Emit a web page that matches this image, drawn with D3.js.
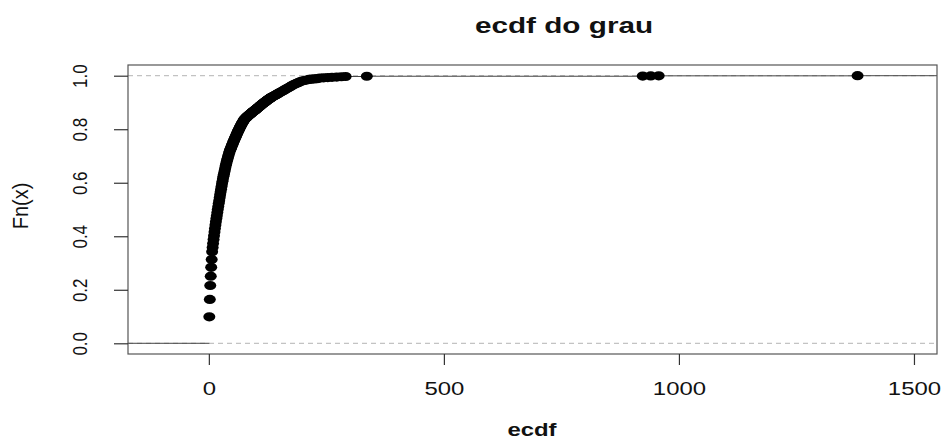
<!DOCTYPE html>
<html><head><meta charset="utf-8">
<script src="https://cdn.jsdelivr.net/npm/d3@7"></script>
<style>body{margin:0;background:#fff;} svg{display:block;font-family:"Liberation Sans",Arial,sans-serif;}</style>
</head><body><svg id="c" width="942" height="439"></svg>
<script>
const title = "ecdf do grau";
const xLabel = "ecdf";
const yLabel = "Fn(x)";
const xTicks = [0, 500, 1000, 1500];
const yTicks = [0, 0.2, 0.4, 0.6, 0.8, 1.0];
const xDomain = [-172, 1549];
const yDomain = [-0.04, 1.04];

// distinct degrees (knots) and the ECDF value at each knot
const degree = [1,2,3,4,5,6,7,8,9,10,11,12,13,14,15,16,17,18,19,20,
  21,22,23,24,25,26,27,28,29,30,31,32,33,34,35,36,37,38,39,40,
  41,42,43,44,45,46,47,48,49,50,51,52,53,54,55,56,57,58,59,60,
  61,62,63,64,65,66,67,68,69,70,71,72,73,74,75,76,77,78,79,80,
  81,82,83,84,85,86,87,88,89,90,91,92,93,94,95,96,97,98,99,100,
  101,102,103,104,105,106,107,108,109,110,111,112,113,114,115,116,117,118,119,120,
  121,122,123,124,125,126,127,128,129,130,131,132,133,
  135,137,139,141,143,145,147,150,152,155,158,161,164,167,170,173,176,179,182,186,
  190,194,198,203,208,213,218,224,230,236,244,253,262,272,282,291,336,923,940,957,1380];
const fn = [0.099,0.164,0.216,0.251,0.284,0.313,0.342,0.358,0.373,0.388,0.402,0.416,0.429,0.442,0.454,0.466,0.477,0.489,0.500,0.511,
  0.522,0.533,0.544,0.555,0.565,0.576,0.586,0.596,0.606,0.615,0.624,0.632,0.640,0.648,0.656,0.664,0.671,0.678,0.685,0.691,
  0.698,0.704,0.710,0.716,0.721,0.725,0.730,0.734,0.739,0.743,0.747,0.752,0.756,0.760,0.764,0.768,0.772,0.776,0.780,0.784,
  0.788,0.792,0.795,0.799,0.803,0.806,0.810,0.813,0.817,0.820,0.823,0.826,0.829,0.832,0.835,0.837,0.839,0.841,0.843,0.844,
  0.846,0.848,0.849,0.851,0.852,0.854,0.855,0.857,0.858,0.860,0.861,0.863,0.864,0.866,0.867,0.868,0.870,0.871,0.872,0.874,
  0.875,0.877,0.878,0.880,0.881,0.883,0.884,0.886,0.887,0.889,0.890,0.892,0.893,0.894,0.896,0.897,0.899,0.900,0.901,0.903,
  0.904,0.905,0.907,0.908,0.909,0.911,0.912,0.913,0.914,0.916,0.917,0.918,0.919,
  0.921,0.923,0.925,0.927,0.929,0.931,0.933,0.936,0.938,0.941,0.944,0.947,0.950,0.953,0.956,0.959,0.962,0.965,0.968,0.971,
  0.974,0.977,0.980,0.982,0.984,0.986,0.987,0.988,0.989,0.991,0.992,0.993,0.994,0.995,0.996,0.997,0.998,0.9985,0.999,0.9995,1.0];

const svg = d3.select("#c");
const m = {l:128, r:937, t:65, b:354};
const x = d3.scaleLinear().domain(xDomain).range([m.l, m.r]);
const y = d3.scaleLinear().domain(yDomain).range([m.b, m.t]);
const ink = "#111";

// reference lines at 0 and 1
svg.selectAll("line.ref").data([0, 1]).join("line").attr("class","ref")
  .attr("x1", m.l).attr("x2", m.r).attr("y1", d => y(d)).attr("y2", d => y(d))
  .attr("stroke", "#b3b3b3").attr("stroke-width", 1).attr("stroke-dasharray", "5,4");

// step segments
const segs = [{x1: xDomain[0], x2: degree[0], v: 0}];
for (let i = 0; i < degree.length; i++) {
  segs.push({x1: degree[i], x2: i < degree.length - 1 ? degree[i+1] : xDomain[1], v: fn[i]});
}
svg.append("g").selectAll("line").data(segs).join("line")
  .attr("x1", d => x(d.x1)).attr("x2", d => x(d.x2))
  .attr("y1", d => y(d.v)).attr("y2", d => y(d.v))
  .attr("stroke", "#444").attr("stroke-width", 1);

// points
svg.append("g").selectAll("ellipse").data(degree).join("ellipse")
  .attr("cx", d => x(d)).attr("cy", (d, i) => y(fn[i]))
  .attr("rx", 6).attr("ry", 4.6).attr("fill", "#000");

// box
svg.append("rect").attr("x", m.l).attr("y", m.t)
  .attr("width", m.r - m.l).attr("height", m.b - m.t)
  .attr("fill", "none").attr("stroke", "#555").attr("stroke-width", 1.2);

// x axis
const gx = svg.append("g").attr("transform", `translate(0,${m.b})`)
  .call(d3.axisBottom(x).tickValues(xTicks).tickSize(11).tickFormat(d3.format("d")));
gx.select(".domain").remove();
gx.selectAll(".tick line").attr("stroke", "#333").attr("stroke-width", 1.2);
gx.selectAll(".tick text").attr("y", 0).attr("dy", 0)
  .attr("transform", "translate(0,41) scale(1.33,1)")
  .attr("font-size", 18).attr("fill", ink).attr("font-family", "Liberation Sans, Arial, sans-serif");

// y axis
const gy = svg.append("g").attr("transform", `translate(${m.l},0)`)
  .call(d3.axisLeft(y).tickValues(yTicks).tickSize(14).tickFormat(d3.format(".1f")));
gy.select(".domain").remove();
gy.selectAll(".tick line").attr("stroke", "#333").attr("stroke-width", 1.2);
gy.selectAll(".tick text").attr("x", 0).attr("y", 0).attr("dy", 0)
  .attr("text-anchor", "middle")
  .attr("transform", "translate(-41,0) scale(1.15,1) rotate(-90)")
  .attr("font-size", 17).attr("fill", ink).attr("font-family", "Liberation Sans, Arial, sans-serif");

// titles
svg.append("text").attr("transform", "translate(564,33) scale(1.35,1)")
  .attr("text-anchor", "middle").attr("font-weight", "bold").attr("font-size", 22)
  .attr("fill", ink).text(title);
svg.append("text").attr("transform", "translate(532,435.5) scale(1.33,1)")
  .attr("text-anchor", "middle").attr("font-weight", "bold").attr("font-size", 18)
  .attr("fill", ink).text(xLabel);
svg.append("text").attr("transform", "translate(28,206) scale(1.1,1) rotate(-90)")
  .attr("text-anchor", "middle").attr("font-size", 20)
  .attr("fill", ink).text(yLabel);
</script></body></html>
